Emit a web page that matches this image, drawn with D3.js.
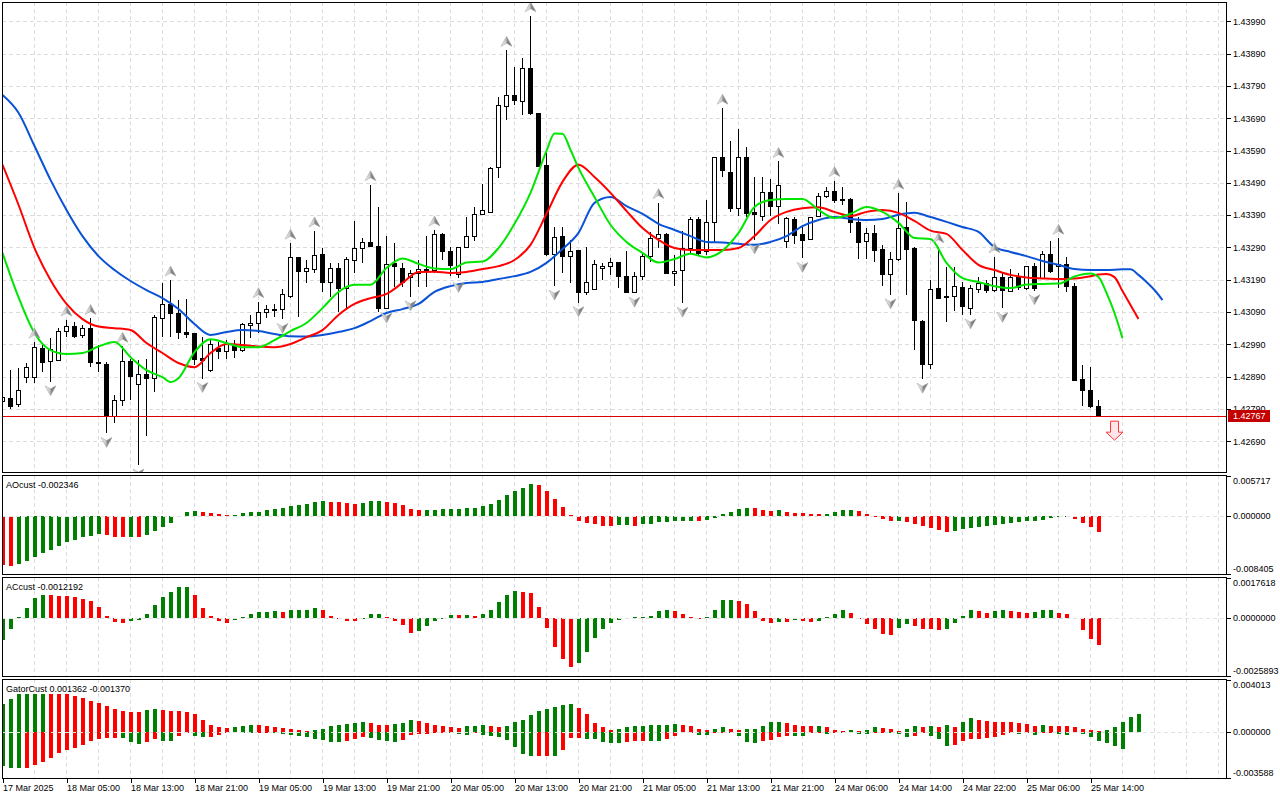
<!DOCTYPE html>
<html>
<head>
<meta charset="utf-8">
<script src="https://cdn.jsdelivr.net/npm/d3@7"></script>
<style>
  body { margin: 0; background: #fff; }
  svg { display: block; font-family: "Liberation Sans", Arial, sans-serif; font-size: 9px; }
</style>
</head>
<body>
<svg id="chart" width="1280" height="800"></svg>
<script>
// ---- data (H1 bars, index 0 = 17 Mar 21:00) ----
const open = [
  1.42814,1.42822,1.42804,1.42886,1.42886,1.42977,1.42936,1.42939,1.43029,1.43046,
  1.43018,1.43039,1.42935,1.42928,1.42765,1.42815,1.42938,1.42866,1.42897,1.42884,
  1.43070,1.43114,1.43086,1.43026,1.43022,1.42946,1.42908,1.42976,1.42967,1.42988,
  1.42970,1.43047,1.43055,1.43089,1.43098,1.43098,1.43139,1.43259,1.43215,1.43222,
  1.43269,1.43181,1.43225,1.43163,1.43249,1.43287,1.43306,1.43292,1.43101,1.43241,
  1.43225,1.43196,1.43208,1.43222,1.43218,1.43331,1.43277,1.43205,1.43290,1.43323,
  1.43393,1.43398,1.43538,1.43726,1.43760,1.43742,1.43845,1.43706,1.43543,1.43267,
  1.43325,1.43263,1.43279,1.43150,1.43160,1.43225,1.43232,1.43243,1.43201,1.43151,
  1.43199,1.43261,1.43318,1.43331,1.43210,1.43218,1.43287,1.43377,1.43277,1.43367,
  1.43569,1.43523,1.43411,1.43569,1.43398,1.43387,1.43460,1.43416,1.43308,1.43377,
  1.43329,1.43315,1.43385,1.43447,1.43463,1.43439,1.43439,1.43368,1.43308,1.43332,
  1.43282,1.43207,1.43251,1.43352,1.43287,1.43060,1.42928,1.43163,1.43139,1.43139,
  1.43166,1.43101,1.43160,1.43179,1.43156,1.43197,1.43155,1.43197,1.43163,1.43232,
  1.43194,1.43269,1.43230,1.43238,1.43170,1.42882,1.42848,1.42796
];
const high = [
  1.42836,1.42910,1.42916,1.42931,1.42997,1.42988,1.43009,1.43039,1.43065,1.43060,
  1.43050,1.43070,1.42988,1.42936,1.42833,1.42984,1.42943,1.42941,1.42943,1.43081,
  1.43179,1.43189,1.43127,1.43129,1.43024,1.43013,1.43003,1.42998,1.43003,1.43003,
  1.43055,1.43081,1.43122,1.43112,1.43115,1.43160,1.43303,1.43260,1.43251,1.43341,
  1.43287,1.43241,1.43241,1.43261,1.43372,1.43318,1.43484,1.43414,1.43325,1.43303,
  1.43241,1.43220,1.43251,1.43325,1.43344,1.43334,1.43292,1.43292,1.43383,1.43414,
  1.43487,1.43540,1.43755,1.43900,1.43848,1.43876,1.44007,1.43707,1.43587,1.43354,
  1.43354,1.43313,1.43279,1.43292,1.43251,1.43241,1.43256,1.43246,1.43279,1.43215,
  1.43277,1.43339,1.43429,1.43336,1.43267,1.43342,1.43385,1.43383,1.43437,1.43571,
  1.43721,1.43618,1.43656,1.43602,1.43509,1.43509,1.43501,1.43556,1.43383,1.43385,
  1.43360,1.43385,1.43458,1.43476,1.43497,1.43476,1.43442,1.43385,1.43349,1.43360,
  1.43298,1.43277,1.43458,1.43432,1.43290,1.43065,1.43189,1.43292,1.43230,1.43228,
  1.43184,1.43174,1.43197,1.43189,1.43261,1.43210,1.43222,1.43210,1.43232,1.43241,
  1.43280,1.43311,1.43318,1.43259,1.43179,1.42926,1.42920,1.42819
];
const low = [
  1.42805,1.42791,1.42796,1.42869,1.42869,1.42905,1.42874,1.42938,1.43013,1.43008,
  1.43008,1.42920,1.42905,1.42714,1.42747,1.42798,1.42819,1.42616,1.42705,1.42843,
  1.43013,1.43013,1.43005,1.43008,1.42926,1.42884,1.42905,1.42943,1.42943,1.42949,
  1.42967,1.43008,1.43026,1.43070,1.43074,1.43067,1.43134,1.43073,1.43179,1.43210,
  1.43153,1.43137,1.43091,1.43101,1.43212,1.43241,1.43291,1.43091,1.43099,1.43168,
  1.43168,1.43137,1.43166,1.43166,1.43212,1.43251,1.43201,1.43194,1.43290,1.43311,
  1.43391,1.43396,1.43506,1.43683,1.43732,1.43701,1.43701,1.43539,1.43263,1.43170,
  1.43210,1.43181,1.43119,1.43143,1.43158,1.43189,1.43205,1.43163,1.43150,1.43148,
  1.43189,1.43246,1.43287,1.43210,1.43170,1.43117,1.43270,1.43267,1.43267,1.43308,
  1.43507,1.43401,1.43387,1.43383,1.43313,1.43373,1.43387,1.43363,1.43287,1.43301,
  1.43256,1.43313,1.43383,1.43442,1.43428,1.43422,1.43336,1.43254,1.43253,1.43246,
  1.43170,1.43143,1.43249,1.43143,1.42972,1.42882,1.42915,1.43129,1.43060,1.43094,
  1.43081,1.43081,1.43148,1.43148,1.43153,1.43101,1.43153,1.43158,1.43158,1.43156,
  1.43191,1.43212,1.43163,1.43153,1.42877,1.42798,1.42794,1.42767
];
const close = [
  1.42826,1.42796,1.42848,1.42918,1.42980,1.42933,1.42974,1.43029,1.43046,1.43015,
  1.43039,1.42933,1.42932,1.42767,1.42815,1.42938,1.42891,1.42897,1.42884,1.43073,
  1.43114,1.43086,1.43026,1.43021,1.42944,1.42939,1.42990,1.42967,1.42988,1.42970,
  1.43050,1.43055,1.43089,1.43097,1.43099,1.43145,1.43259,1.43215,1.43225,1.43264,
  1.43181,1.43225,1.43163,1.43253,1.43287,1.43306,1.43292,1.43101,1.43238,1.43230,
  1.43181,1.43208,1.43222,1.43218,1.43331,1.43277,1.43233,1.43290,1.43323,1.43393,
  1.43403,1.43535,1.43729,1.43760,1.43745,1.43845,1.43704,1.43540,1.43267,1.43322,
  1.43261,1.43277,1.43150,1.43181,1.43236,1.43232,1.43243,1.43199,1.43150,1.43201,
  1.43263,1.43318,1.43331,1.43210,1.43215,1.43287,1.43377,1.43272,1.43367,1.43569,
  1.43528,1.43411,1.43569,1.43394,1.43391,1.43460,1.43416,1.43481,1.43380,1.43326,
  1.43310,1.43383,1.43447,1.43463,1.43434,1.43435,1.43368,1.43305,1.43334,1.43280,
  1.43205,1.43251,1.43349,1.43284,1.43063,1.42928,1.43160,1.43132,1.43135,1.43168,
  1.43106,1.43163,1.43179,1.43158,1.43197,1.43158,1.43197,1.43166,1.43230,1.43163,
  1.43269,1.43215,1.43238,1.43168,1.42879,1.42848,1.42796,1.42767
];

// Alligator lines, [bar index, price] (shifted forward past the last bar)
const jaw = [
  [0,1.43762],[2,1.43707],[4,1.43604],[6,1.43499],[8,1.43406],[10,1.43325],[12,1.43263],[14,1.43220],
  [16,1.43186],[18,1.43158],[20,1.43133],[22,1.43099],[24,1.43053],[26,1.43019],[28,1.43028],[30,1.43034],
  [32,1.43031],[34,1.43022],[36,1.43015],[38,1.43014],[40,1.43019],[42,1.43028],[44,1.43040],[46,1.43062],
  [48,1.43087],[50,1.43099],[52,1.43115],[54,1.43152],[56,1.43170],[58,1.43180],[60,1.43183],[62,1.43192],
  [64,1.43201],[66,1.43214],[68,1.43242],[70,1.43285],[72,1.43335],[74,1.43428],[76,1.43446],[78,1.43418],
  [80,1.43394],[82,1.43363],[84,1.43344],[86,1.43325],[88,1.43307],[90,1.43305],[92,1.43301],[94,1.43298],
  [96,1.43307],[98,1.43325],[100,1.43356],[102,1.43375],[104,1.43384],[106,1.43378],[108,1.43375],[110,1.43378],
  [112,1.43391],[114,1.43397],[116,1.43384],[118,1.43369],[120,1.43353],[122,1.43338],[124,1.43291],[126,1.43276],
  [128,1.43263],[130,1.43248],[132,1.43236],[134,1.43223],[136,1.43220],[138,1.43220],[140,1.43222],[141,1.43222],
  [142,1.43205],[143,1.43183],[144,1.43158],[145,1.43127]
];
const teeth = [
  [0,1.43546],[2,1.43422],[4,1.43288],[6,1.43189],[8,1.43115],[10,1.43068],[12,1.43045],[14,1.43040],
  [16,1.43034],[18,1.42994],[20,1.42963],[22,1.42932],[24,1.42919],[26,1.42963],[28,1.42991],[30,1.42988],
  [32,1.42983],[34,1.42981],[36,1.42991],[38,1.43012],[40,1.43034],[42,1.43081],[44,1.43115],[46,1.43133],
  [48,1.43146],[50,1.43180],[52,1.43214],[54,1.43215],[56,1.43211],[58,1.43214],[60,1.43223],[62,1.43232],
  [64,1.43251],[66,1.43298],[68,1.43394],[70,1.43493],[72,1.43546],[74,1.43508],[76,1.43459],[78,1.43403],
  [80,1.43350],[82,1.43313],[84,1.43288],[86,1.43282],[88,1.43282],[90,1.43282],[92,1.43288],[94,1.43325],
  [96,1.43375],[98,1.43400],[100,1.43411],[102,1.43414],[104,1.43400],[106,1.43387],[108,1.43400],[110,1.43406],
  [112,1.43397],[114,1.43372],[116,1.43342],[118,1.43332],[120,1.43282],[122,1.43236],[124,1.43220],[126,1.43205],
  [128,1.43197],[130,1.43194],[132,1.43192],[134,1.43194],[136,1.43201],[137,1.43206],[138,1.43208],[139,1.43198],
  [140,1.43155],[141,1.43112],[142,1.43068]
];
const lips = [
  [0,1.43273],[2,1.43136],[4,1.43025],[6,1.42972],[8,1.42960],[10,1.42963],[12,1.42983],[14,1.42997],
  [16,1.42950],[18,1.42910],[20,1.42888],[21,1.42873],[22,1.42885],[24,1.42966],[26,1.43006],[28,1.42994],
  [30,1.42981],[32,1.42981],[34,1.43003],[36,1.43031],[38,1.43056],[40,1.43102],[42,1.43152],[44,1.43174],
  [46,1.43174],[48,1.43226],[50,1.43256],[52,1.43239],[54,1.43225],[56,1.43223],[58,1.43243],[60,1.43246],
  [62,1.43288],[64,1.43363],[66,1.43459],[68,1.43589],[69,1.43643],[70,1.43642],[71,1.43592],[72,1.43536],
  [74,1.43446],[76,1.43360],[78,1.43307],[80,1.43273],[82,1.43243],[84,1.43254],[86,1.43270],[88,1.43259],
  [90,1.43280],[92,1.43335],[94,1.43415],[96,1.43437],[98,1.43440],[100,1.43440],[102,1.43406],[104,1.43381],
  [106,1.43394],[108,1.43415],[110,1.43400],[112,1.43366],[114,1.43319],[116,1.43316],[118,1.43242],[120,1.43195],
  [122,1.43183],[124,1.43170],[126,1.43164],[128,1.43175],[130,1.43177],[132,1.43178],[134,1.43200],[136,1.43209],
  [137,1.43198],[138,1.43149],[139,1.43087],[140,1.43009]
];

// fractal bars
const upFractals = [4, 8, 11, 15, 21, 32, 36, 39, 46, 54, 63, 66, 82, 90, 97, 104, 112, 117, 124, 132];
const downFractals = [6, 13, 17, 25, 35, 48, 51, 57, 69, 72, 79, 85, 94, 100, 111, 115, 121, 125, 129];

// sell signal arrow [bar index, price]
const signal = [139, 1.42752];

const ao = [
  -0.00711,-0.00725,-0.00701,-0.00653,-0.00596,-0.00538,-0.00500,-0.00437,-0.00379,-0.00351,
  -0.00307,-0.00293,-0.00269,-0.00279,-0.00307,-0.00310,-0.00306,-0.00309,-0.00279,-0.00221,
  -0.00163,-0.00106,-0.00019,0.00053,0.00067,0.00053,0.00043,0.00029,0.00012,0.00016,
  0.00034,0.00048,0.00058,0.00082,0.00096,0.00110,0.00134,0.00149,0.00163,0.00192,
  0.00207,0.00192,0.00190,0.00178,0.00175,0.00178,0.00207,0.00209,0.00192,0.00178,
  0.00149,0.00091,0.00082,0.00084,0.00086,0.00091,0.00093,0.00095,0.00110,0.00112,
  0.00134,0.00163,0.00226,0.00293,0.00355,0.00394,0.00451,0.00437,0.00355,0.00240,
  0.00130,0.00010,-0.00077,-0.00110,-0.00125,-0.00149,-0.00154,-0.00134,-0.00130,-0.00149,
  -0.00125,-0.00115,-0.00096,-0.00091,-0.00082,-0.00077,-0.00072,-0.00077,-0.00058,-0.00034,
  0.00029,0.00058,0.00091,0.00115,0.00106,0.00077,0.00072,0.00077,0.00048,0.00043,
  0.00038,0.00029,0.00019,0.00029,0.00058,0.00077,0.00082,0.00062,0.00029,-0.00010,
  -0.00053,-0.00077,-0.00072,-0.00091,-0.00125,-0.00149,-0.00182,-0.00211,-0.00235,-0.00221,
  -0.00187,-0.00178,-0.00163,-0.00154,-0.00130,-0.00115,-0.00101,-0.00091,-0.00082,-0.00077,
  -0.00062,-0.00038,-0.00019,-0.00010,-0.00043,-0.00110,-0.00163,-0.002346
];
const ac = [
  -0.00097,-0.00051,0.00003,0.00044,0.00087,0.00102,0.00100,0.00098,0.00096,0.00091,
  0.00084,0.00075,0.00048,0.00009,-0.00019,-0.00023,-0.00016,-0.00010,0.00017,0.00058,
  0.00093,0.00116,0.00136,0.00137,0.00102,0.00044,0.00006,-0.00015,-0.00023,-0.00012,
  0.00003,0.00017,0.00026,0.00027,0.00028,0.00026,0.00034,0.00035,0.00036,0.00041,
  0.00036,0.00006,-0.00003,-0.00015,-0.00016,-0.00006,0.00017,0.00018,0.00003,-0.00015,
  -0.00032,-0.00067,-0.00061,-0.00036,-0.00015,-0.00003,0.00013,0.00012,0.00013,0.00009,
  0.00017,0.00036,0.00071,0.00102,0.00119,0.00113,0.00110,0.00048,-0.00045,-0.00131,
  -0.00184,-0.00218,-0.00203,-0.00151,-0.00088,-0.00049,-0.00022,-0.00010,-0.00003,0.00001,
  0.00003,0.00006,0.00029,0.00032,0.00029,0.00015,0.00004,-0.00001,0.00003,0.00035,
  0.00078,0.00079,0.00075,0.00062,0.00028,-0.00015,-0.00022,-0.00020,-0.00021,-0.00009,
  -0.00015,-0.00017,-0.00016,0.00001,0.00017,0.00032,0.00023,-0.00001,-0.00026,-0.00049,
  -0.00073,-0.00075,-0.00046,-0.00029,-0.00038,-0.00049,-0.00052,-0.00054,-0.00049,-0.00023,
  0.00009,0.00032,0.00029,0.00023,0.00028,0.00036,0.00029,0.00026,0.00020,0.00026,
  0.00032,0.00033,0.00023,0.00017,-0.00004,-0.00054,-0.00094,-0.0012192
];
// Gator: upper = |jaw - teeth|, lower = |teeth - lips| (drawn below zero)
const gatorUp = [
  0.00215,0.00251,0.00291,0.00293,0.00295,0.00296,0.00294,0.00292,0.00290,0.00276,
  0.00261,0.00241,0.00220,0.00200,0.00175,0.00160,0.00155,0.00154,0.00170,0.00175,
  0.00170,0.00160,0.00159,0.00152,0.00139,0.00089,0.00053,0.00038,0.00030,0.00038,
  0.00048,0.00053,0.00052,0.00046,0.00038,0.00030,0.00023,0.00013,0.00008,0.00013,
  0.00018,0.00043,0.00051,0.00063,0.00071,0.00072,0.00070,0.00056,0.00055,0.00063,
  0.00071,0.00089,0.00084,0.00068,0.00056,0.00048,0.00038,0.00030,0.00043,0.00048,
  0.00056,0.00046,0.00038,0.00048,0.00076,0.00089,0.00127,0.00160,0.00177,0.00190,
  0.00208,0.00215,0.00182,0.00139,0.00071,0.00033,0.00013,0.00018,0.00033,0.00043,
  0.00048,0.00049,0.00050,0.00056,0.00057,0.00053,0.00046,0.00023,0.00015,0.00023,
  0.00038,0.00023,0.00015,0.00018,0.00019,0.00048,0.00073,0.00079,0.00071,0.00056,
  0.00046,0.00041,0.00048,0.00033,0.00013,0.00005,0.00013,0.00008,0.00015,0.00033,
  0.00032,0.00023,0.00005,0.00025,0.00043,0.00035,0.00048,0.00038,0.00051,0.00038,
  0.00079,0.00109,0.00094,0.00086,0.00079,0.00078,0.00073,0.00068,0.00063,0.00046,
  0.00056,0.00048,0.00046,0.00043,0.00038,0.00018,0.00013,0.00008,0.00010,0.00038,
  0.00076,0.00114,0.001362
];
const gatorDown = [
  0.00266,0.00279,0.00284,0.00279,0.00256,0.00231,0.00203,0.00165,0.00144,0.00129,
  0.00104,0.00068,0.00058,0.00046,0.00045,0.00051,0.00076,0.00094,0.00081,0.00058,
  0.00068,0.00071,0.00033,0.00013,0.00035,0.00043,0.00042,0.00023,0.00006,0.00007,
  0.00008,0.00009,0.00006,0.00005,0.00008,0.00018,0.00028,0.00033,0.00038,0.00056,
  0.00063,0.00079,0.00081,0.00071,0.00053,0.00038,0.00051,0.00063,0.00068,0.00079,
  0.00063,0.00028,0.00020,0.00018,0.00013,0.00010,0.00011,0.00020,0.00028,0.00013,
  0.00023,0.00033,0.00038,0.00063,0.00119,0.00170,0.00192,0.00190,0.00188,0.00190,
  0.00139,0.00051,0.00045,0.00056,0.00058,0.00079,0.00084,0.00086,0.00079,0.00071,
  0.00070,0.00071,0.00072,0.00056,0.00033,0.00008,0.00003,0.00025,0.00026,0.00005,
  0.00003,0.00005,0.00030,0.00081,0.00084,0.00071,0.00063,0.00043,0.00033,0.00034,
  0.00036,0.00008,0.00003,0.00015,0.00005,0.00006,0.00005,0.00015,0.00016,0.00013,
  0.00005,0.00010,0.00020,0.00043,0.00035,0.00013,0.00033,0.00058,0.00109,0.00101,
  0.00068,0.00056,0.00055,0.00051,0.00038,0.00025,0.00013,0.00014,0.00012,0.00025,
  0.00008,0.00007,0.00015,0.00028,0.00008,0.00018,0.00040,0.00068,0.00084,0.00114,
  0.00137
];

const priceTicks = [1.42690,1.42790,1.42890,1.42990,1.43090,1.43190,1.43290,1.43390,1.43490,1.43590,1.43690,1.43790,1.43890,1.43990];
const timeLabels = ["17 Mar 2025","18 Mar 05:00","18 Mar 13:00","18 Mar 21:00","19 Mar 05:00","19 Mar 13:00",
  "19 Mar 21:00","20 Mar 05:00","20 Mar 13:00","20 Mar 21:00","21 Mar 05:00","21 Mar 13:00","21 Mar 21:00",
  "24 Mar 06:00","24 Mar 14:00","24 Mar 22:00","25 Mar 06:00","25 Mar 14:00"];
const labelBars = timeLabels.map((d, i) => i * 8);

// ---- layout ----
const GREEN = "#008000", RED = "#ff0000", GRID = "#dcdcdc";
const axisX = 1227;
const panels = {
  main:  { top: 2,   bottom: 473 },
  ao:    { top: 475, bottom: 575 },
  ac:    { top: 577, bottom: 677 },
  gator: { top: 679, bottom: 779 }
};

const x = d3.scaleLinear().domain([0, 1]).range([2.5, 10.5]);
const yMain = d3.scaleLinear().domain([1.4269, 1.4399]).range([441.2, 21.3]);
const yAO = d3.scaleLinear().domain([-0.008405, 0.005717]).range([574, 476]);
const yAC = d3.scaleLinear().domain([-0.0025893, 0.0017618]).range([676, 578]);
const yGator = d3.scaleLinear().domain([-0.003588, 0.004013]).range([778, 680]);

const svg = d3.select("#chart");
svg.append("rect").attr("width", 1280).attr("height", 800).attr("fill", "#fff");

const defs = svg.append("defs");
Object.entries(panels).forEach(([k, p]) => {
  defs.append("clipPath").attr("id", "clip-" + k)
    .append("rect").attr("x", 3).attr("y", p.top + 1)
    .attr("width", axisX - 3).attr("height", p.bottom - p.top - 1);
});
const grad = defs.append("linearGradient").attr("id", "frGrad")
  .attr("x1", 0).attr("x2", 1).attr("y1", 0).attr("y2", 0);
grad.append("stop").attr("offset", "0%").attr("stop-color", "#f4f4f4");
grad.append("stop").attr("offset", "48%").attr("stop-color", "#c4c4c4");
grad.append("stop").attr("offset", "52%").attr("stop-color", "#8c8c8c");
grad.append("stop").attr("offset", "100%").attr("stop-color", "#6e6e6e");

const gridBars = d3.range(0, 153, 4);

function verticalGrid(g, p) {
  g.append("g").attr("shape-rendering", "crispEdges")
    .selectAll("line").data(gridBars).join("line")
    .attr("x1", d => x(d)).attr("x2", d => x(d))
    .attr("y1", p.top).attr("y2", p.bottom)
    .attr("stroke", GRID).attr("stroke-dasharray", "4,3");
}

// ---- main panel ----
const main = svg.append("g").attr("clip-path", "url(#clip-main)");
verticalGrid(main, panels.main);
main.append("g").attr("shape-rendering", "crispEdges")
  .selectAll("line").data(priceTicks).join("line")
  .attr("x1", 2).attr("x2", axisX)
  .attr("y1", d => Math.round(yMain(d)) + 0.5).attr("y2", d => Math.round(yMain(d)) + 0.5)
  .attr("stroke", GRID).attr("stroke-dasharray", "4,3");

const candles = open.map((o, i) => ({ i, o, h: high[i], l: low[i], c: close[i] }));
const cg = main.append("g").attr("shape-rendering", "crispEdges");
cg.selectAll("line").data(candles).join("line")
  .attr("x1", d => x(d.i)).attr("x2", d => x(d.i))
  .attr("y1", d => yMain(d.h)).attr("y2", d => yMain(d.l))
  .attr("stroke", "#000");
cg.selectAll("rect").data(candles).join("rect")
  .attr("x", d => x(d.i) - 2)
  .attr("y", d => yMain(Math.max(d.o, d.c)))
  .attr("width", 4)
  .attr("height", d => Math.max(Math.abs(yMain(d.o) - yMain(d.c)), 1))
  .attr("fill", d => d.c >= d.o ? "#fff" : "#000")
  .attr("stroke", "#000");

const line = d3.line().x(d => x(d[0])).y(d => yMain(d[1])).curve(d3.curveMonotoneX);
[[jaw, "#0a52d6"], [teeth, "#ff0000"], [lips, "#00e600"]].forEach(([data, col]) => {
  main.append("path").datum(data).attr("d", line)
    .attr("fill", "none").attr("stroke", col).attr("stroke-width", 2);
});

// fractal arrows
const upShape = "M0,-5L5.5,5L0,2L-5.5,5Z";
const downShape = "M0,5L5.5,-5L0,-2L-5.5,-5Z";
main.append("g").selectAll("path").data(upFractals).join("path")
  .attr("d", upShape)
  .attr("transform", i => `translate(${x(i)},${yMain(high[i]) - 9})`)
  .attr("fill", "url(#frGrad)").attr("stroke", "#a0a0a0").attr("stroke-width", 0.5);
main.append("g").selectAll("path").data(downFractals).join("path")
  .attr("d", downShape)
  .attr("transform", i => `translate(${x(i)},${yMain(low[i]) + 9})`)
  .attr("fill", "url(#frGrad)").attr("stroke", "#a0a0a0").attr("stroke-width", 0.5);

// current price line
const last = close[close.length - 1];
main.append("line").attr("shape-rendering", "crispEdges")
  .attr("x1", 2).attr("x2", axisX)
  .attr("y1", yMain(last)).attr("y2", yMain(last))
  .attr("stroke", "#dd0000");

// sell signal arrow
main.append("path")
  .attr("d", "M-4,0H4V11H8.5L0,19L-8.5,11H-4Z")
  .attr("transform", `translate(${x(signal[0])},${yMain(signal[1])})`)
  .attr("fill", "#ffe4ea").attr("stroke", "#ff3838").attr("stroke-width", 1);

// price axis
const pAxis = svg.append("g").attr("transform", `translate(${axisX},0)`)
  .call(d3.axisRight(yMain).tickValues(priceTicks).tickFormat(d => d.toFixed(5)).tickSize(4).tickPadding(2));
pAxis.select(".domain").remove();
pAxis.attr("font-family", null).attr("font-size", null);
pAxis.selectAll("line").attr("shape-rendering", "crispEdges");

// current price tag
const tag = svg.append("g").attr("transform", `translate(${axisX + 1},${Math.round(yMain(last))})`);
tag.append("rect").attr("x", 0).attr("y", -6).attr("width", 42).attr("height", 12).attr("fill", "#c40000");
tag.append("text").attr("x", 5).attr("y", 0).attr("dy", "0.34em").attr("fill", "#fff").text(last.toFixed(5));

// ---- indicator panels ----
function barColors(values, firstUp, useAbs) {
  const out = [];
  values.forEach((v, i) => {
    if (i === 0) { out.push(firstUp ? GREEN : RED); return; }
    const a = useAbs ? Math.abs(v) : v, b = useAbs ? Math.abs(values[i - 1]) : values[i - 1];
    out.push(a > b ? GREEN : a < b ? RED : out[i - 1]);
  });
  return out;
}

function histogram(g, values, y, colors, sign) {
  g.append("g").attr("shape-rendering", "crispEdges")
    .selectAll("rect").data(values).join("rect")
    .attr("x", (d, i) => x(i) - 1.5)
    .attr("width", 4)
    .attr("y", d => sign * d >= 0 ? y(sign * d) : y(0))
    .attr("height", d => Math.max(Math.abs(y(sign * d) - y(0)), 1))
    .attr("fill", (d, i) => colors[i]);
}

function indicatorPanel(key, y, series, label, ticks, fmt) {
  const p = panels[key];
  const g = svg.append("g").attr("clip-path", `url(#clip-${key})`);
  verticalGrid(g, p);
  series.forEach(s => histogram(g, s.values, y, s.colors, s.sign));
  g.append("line").attr("shape-rendering", "crispEdges")
    .attr("x1", 2).attr("x2", axisX)
    .attr("y1", Math.round(y(0)) + 0.5).attr("y2", Math.round(y(0)) + 0.5)
    .attr("stroke", "#e2e2e2").attr("stroke-dasharray", "4,3");
  svg.append("text").attr("x", 6).attr("y", p.top + 13).attr("fill", "#000").text(label);

  const ax = svg.append("g").attr("transform", `translate(${axisX},0)`)
    .call(d3.axisRight(y).tickValues(ticks).tickFormat(fmt).tickSize(4).tickPadding(2));
  ax.select(".domain").remove();
  ax.attr("font-family", null).attr("font-size", null);
  ax.selectAll("line").attr("shape-rendering", "crispEdges");
  ax.selectAll("text").attr("transform", (d, i) => i === 0 ? "translate(0,5)" : i === ticks.length - 1 ? "translate(0,-5)" : null);
}

indicatorPanel("ao", yAO,
  [{ values: ao, colors: barColors(ao, false, false), sign: 1 }],
  "AOcust " + ao[ao.length - 1].toFixed(6),
  [0.005717, 0, -0.008405], d => d.toFixed(6));

indicatorPanel("ac", yAC,
  [{ values: ac, colors: barColors(ac, true, false), sign: 1 }],
  "ACcust " + ac[ac.length - 1].toFixed(7),
  [0.0017618, 0, -0.0025893], d => d.toFixed(7));

indicatorPanel("gator", yGator,
  [{ values: gatorUp, colors: barColors(gatorUp, true, true), sign: 1 },
   { values: gatorDown, colors: barColors(gatorDown, true, true), sign: -1 }],
  "GatorCust " + gatorUp[gatorUp.length - 1].toFixed(6) + " " + (-gatorDown[gatorDown.length - 1]).toFixed(6),
  [0.004013, 0, -0.003588], d => d.toFixed(6));

// ---- frames ----
const frames = svg.append("g").attr("fill", "none").attr("stroke", "#000").attr("shape-rendering", "crispEdges");
Object.values(panels).forEach(p => {
  frames.append("rect").attr("x", 2.5).attr("y", p.top + 0.5)
    .attr("width", axisX - 2.5 - 0.5).attr("height", p.bottom - p.top - 1);
});

// ---- time axis ----
const tAxis = svg.append("g").attr("transform", `translate(0,${panels.gator.bottom - 1})`)
  .call(d3.axisBottom(x).tickValues(labelBars).tickFormat((d, i) => timeLabels[i]).tickSize(5).tickPadding(2));
tAxis.select(".domain").remove();
tAxis.attr("font-family", null).attr("font-size", null);
tAxis.selectAll("line").attr("shape-rendering", "crispEdges");
tAxis.selectAll("text").attr("text-anchor", "start").attr("x", 0);
</script>
</body>
</html>
